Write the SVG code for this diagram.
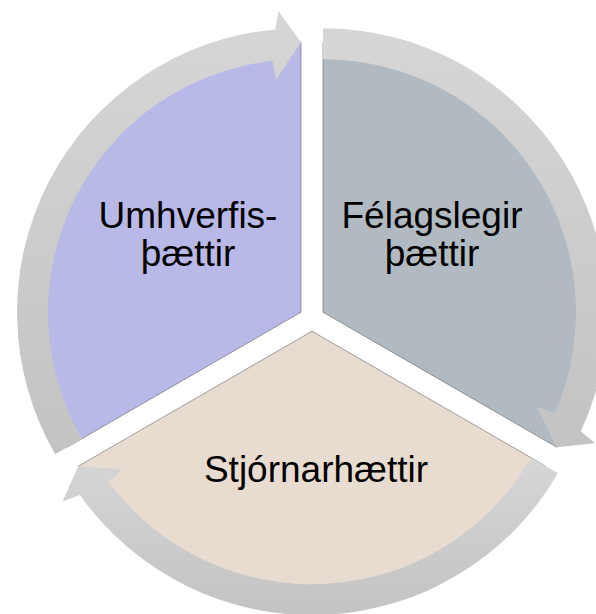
<svg xmlns="http://www.w3.org/2000/svg" width="596" height="614" viewBox="0 0 596 614">
  <defs>
    <linearGradient id="ring" x1="0" y1="0" x2="0" y2="1">
      <stop offset="0" stop-color="#d6d6d6"/>
      <stop offset="1" stop-color="#c3c3c3"/>
    </linearGradient>
    <style>
      .wedge { stroke: #5a5a5a; stroke-opacity: 0.55; stroke-width: 1; stroke-linejoin: miter; }
      .arrow { fill: url(#ring); stroke: none; }
      .label { font-family: "Liberation Sans", Arial, sans-serif; font-size: 37px; fill: #000000; text-anchor: middle; }
    </style>
  </defs>
  <rect width="596" height="614" fill="#ffffff"/>
  <g id="node-felagslegir">
    <path class="wedge" fill="#b0bac0" d="M323,312.2 L323,42.2 A270,270 0 0 1 556.8,447.2 Z"/>
    <text class="label" x="432" y="228">Félagslegir</text>
    <text class="label" x="432" y="266">þættir</text>
  </g>
  <g id="node-stjornarhaettir">
    <path class="wedge" fill="#e8dcd1" d="M312,331.2 L545.8,466.2 A270,270 0 0 1 78.2,466.2 Z"/>
    <text class="label" x="316" y="482">Stjórnarhættir</text>
  </g>
  <g id="node-umhverfis">
    <path class="wedge" fill="#b9b9e8" d="M301,312.2 L67.2,447.2 A270,270 0 0 1 301,42.2 Z"/>
    <text class="label" x="188" y="228">Umhverfis-</text>
    <text class="label" x="188" y="266">þættir</text>
  </g>
  <g id="connectors">
    <path class="arrow" d="M323,28.2 A284,284 0 0 1 580.8,431.3 L595.1,443.2 L556.8,447.2 L536.9,407 L555,413.1 A253,253 0 0 0 323,59.2 Z"/>
    <path class="arrow" d="M557.9,473.2 A284,284 0 0 1 79.9,494.9 L62.5,501.4 L78.2,466.2 L122.9,469.1 L108.6,481.7 A253,253 0 0 0 531.1,457.7 Z"/>
    <path class="arrow" d="M55.1,454.2 A284,284 0 0 1 275.3,29.4 L278.4,11 L301,42.2 L276.1,79.5 L272.4,60.8 A253,253 0 0 0 81.9,438.7 Z"/>
  </g>
</svg>
